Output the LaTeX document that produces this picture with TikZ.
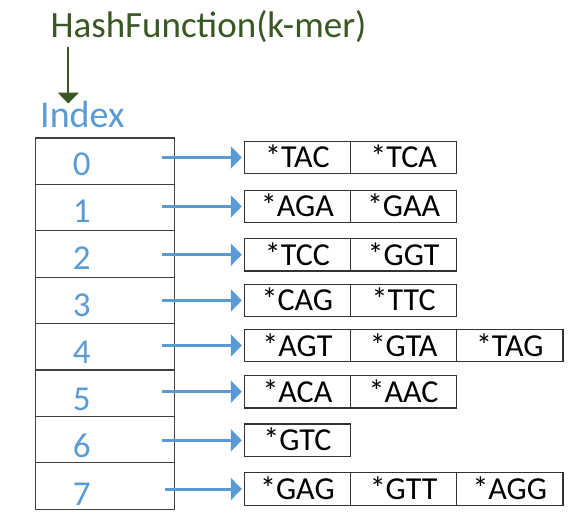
\documentclass[tikz,border=0pt]{standalone}
\usepackage{fontspec}
\setmainfont{Carlito}
\usetikzlibrary{positioning,arrows.meta}
\definecolor{idxblue}{HTML}{5B9BD5}
\definecolor{hashgreen}{HTML}{385723}

\begin{document}
\begin{tikzpicture}[
    x=1pt, y=-1pt,
    every node/.style={anchor=center},
    title/.style={anchor=base, inner sep=0pt, text=hashgreen, font=\fontsize{37}{44}\selectfont},
    label/.style={anchor=base west, inner sep=0pt, text height=24pt, text=idxblue, font=\fontsize{38}{44}\selectfont},
    cell/.style={draw=black!75, line width=1.2pt, minimum width=139.4pt, minimum height=46.4pt, inner sep=0pt, outer sep=0pt},
    digit/.style={anchor=base, inner sep=0pt, text=idxblue, font=\fontsize{35}{40}\selectfont},
    kmer/.style={draw=black!80, line width=1.2pt, minimum width=106.2pt, minimum height=32.5pt, inner sep=0pt, outer sep=0pt, text height=21pt, text depth=0pt, font=\fontsize{32}{38}\selectfont},
    arrow/.style={-{Triangle[length=11pt,width=22pt]}, line width=3pt, idxblue, shorten >=2.5pt},
    hasharrow/.style={-{Triangle[length=11pt,width=21pt]}, line width=2pt, hashgreen}
    ]
\useasboundingbox (0,0) rectangle (582,531);

% Hash function and index label
\node[title] (hash) at (208.5,37) {HashFunction(k-mer)};
\node[label] (index) at (40,127.7) {Index};
\coordinate (hashtail) at (68.3,46.7);
\draw[hasharrow] (hashtail) -- (hashtail |- index.north);

% Index column
\node[cell] (c0) at (105,161.2) {};
\node[cell, below=0pt of c0] (c1) {};
\node[cell, below=0pt of c1] (c2) {};
\node[cell, below=0pt of c2] (c3) {};
\node[cell, below=0pt of c3] (c4) {};
\node[cell, below=0pt of c4] (c5) {};
\node[cell, below=0pt of c5] (c6) {};
\node[cell, below=0pt of c6] (c7) {};

\node[digit] (d0) at (81.7,175.5) {0};
\node[digit] (d1) at (81.7,222.6) {1};
\node[digit] (d2) at (81.7,269.6) {2};
\node[digit] (d3) at (81.7,316.7) {3};
\node[digit] (d4) at (81.7,363.8) {4};
\node[digit] (d5) at (81.7,410.8) {5};
\node[digit] (d6) at (81.7,457.9) {6};
\node[digit] (d7) at (81.7,505) {7};

% Buckets of k-mers
\node[kmer] (b0a) at (297.4,157.4) {*TAC};
\node[kmer, right=0pt of b0a] (b0b) {*TCA};

\node[kmer] (b1a) at (297.4,206.4) {*AGA};
\node[kmer, right=0pt of b1a] (b1b) {*GAA};

\node[kmer] (b2a) at (297.4,254.7) {*TCC};
\node[kmer, right=0pt of b2a] (b2b) {*GGT};

\node[kmer] (b3a) at (297.4,300.4) {*CAG};
\node[kmer, right=0pt of b3a] (b3b) {*TTC};

\node[kmer] (b4a) at (297.4,345.5) {*AGT};
\node[kmer, right=0pt of b4a] (b4b) {*GTA};
\node[kmer, right=0pt of b4b] (b4c) {*TAG};

\node[kmer] (b5a) at (297.4,391.7) {*ACA};
\node[kmer, right=0pt of b5a] (b5b) {*AAC};

\node[kmer] (b6a) at (297.4,440.3) {*GTC};

\node[kmer] (b7a) at (297.4,489) {*GAG};
\node[kmer, right=0pt of b7a] (b7b) {*GTT};
\node[kmer, right=0pt of b7b] (b7c) {*AGG};

% Arrows from index to buckets
\coordinate (s0) at (161.7,157.4);
\coordinate (s1) at (161.7,206.4);
\coordinate (s2) at (161.7,254.7);
\coordinate (s3) at (161.7,300.4);
\coordinate (s4) at (161.7,345.5);
\coordinate (s5) at (161.7,391.7);
\coordinate (s6) at (161.7,440.3);
\coordinate (s7) at (165,489);

\draw[arrow] (s0) -- (b0a);
\draw[arrow] (s1) -- (b1a);
\draw[arrow] (s2) -- (b2a);
\draw[arrow] (s3) -- (b3a);
\draw[arrow] (s4) -- (b4a);
\draw[arrow] (s5) -- (b5a);
\draw[arrow] (s6) -- (b6a);
\draw[arrow] (s7) -- (b7a);

\end{tikzpicture}
\end{document}
